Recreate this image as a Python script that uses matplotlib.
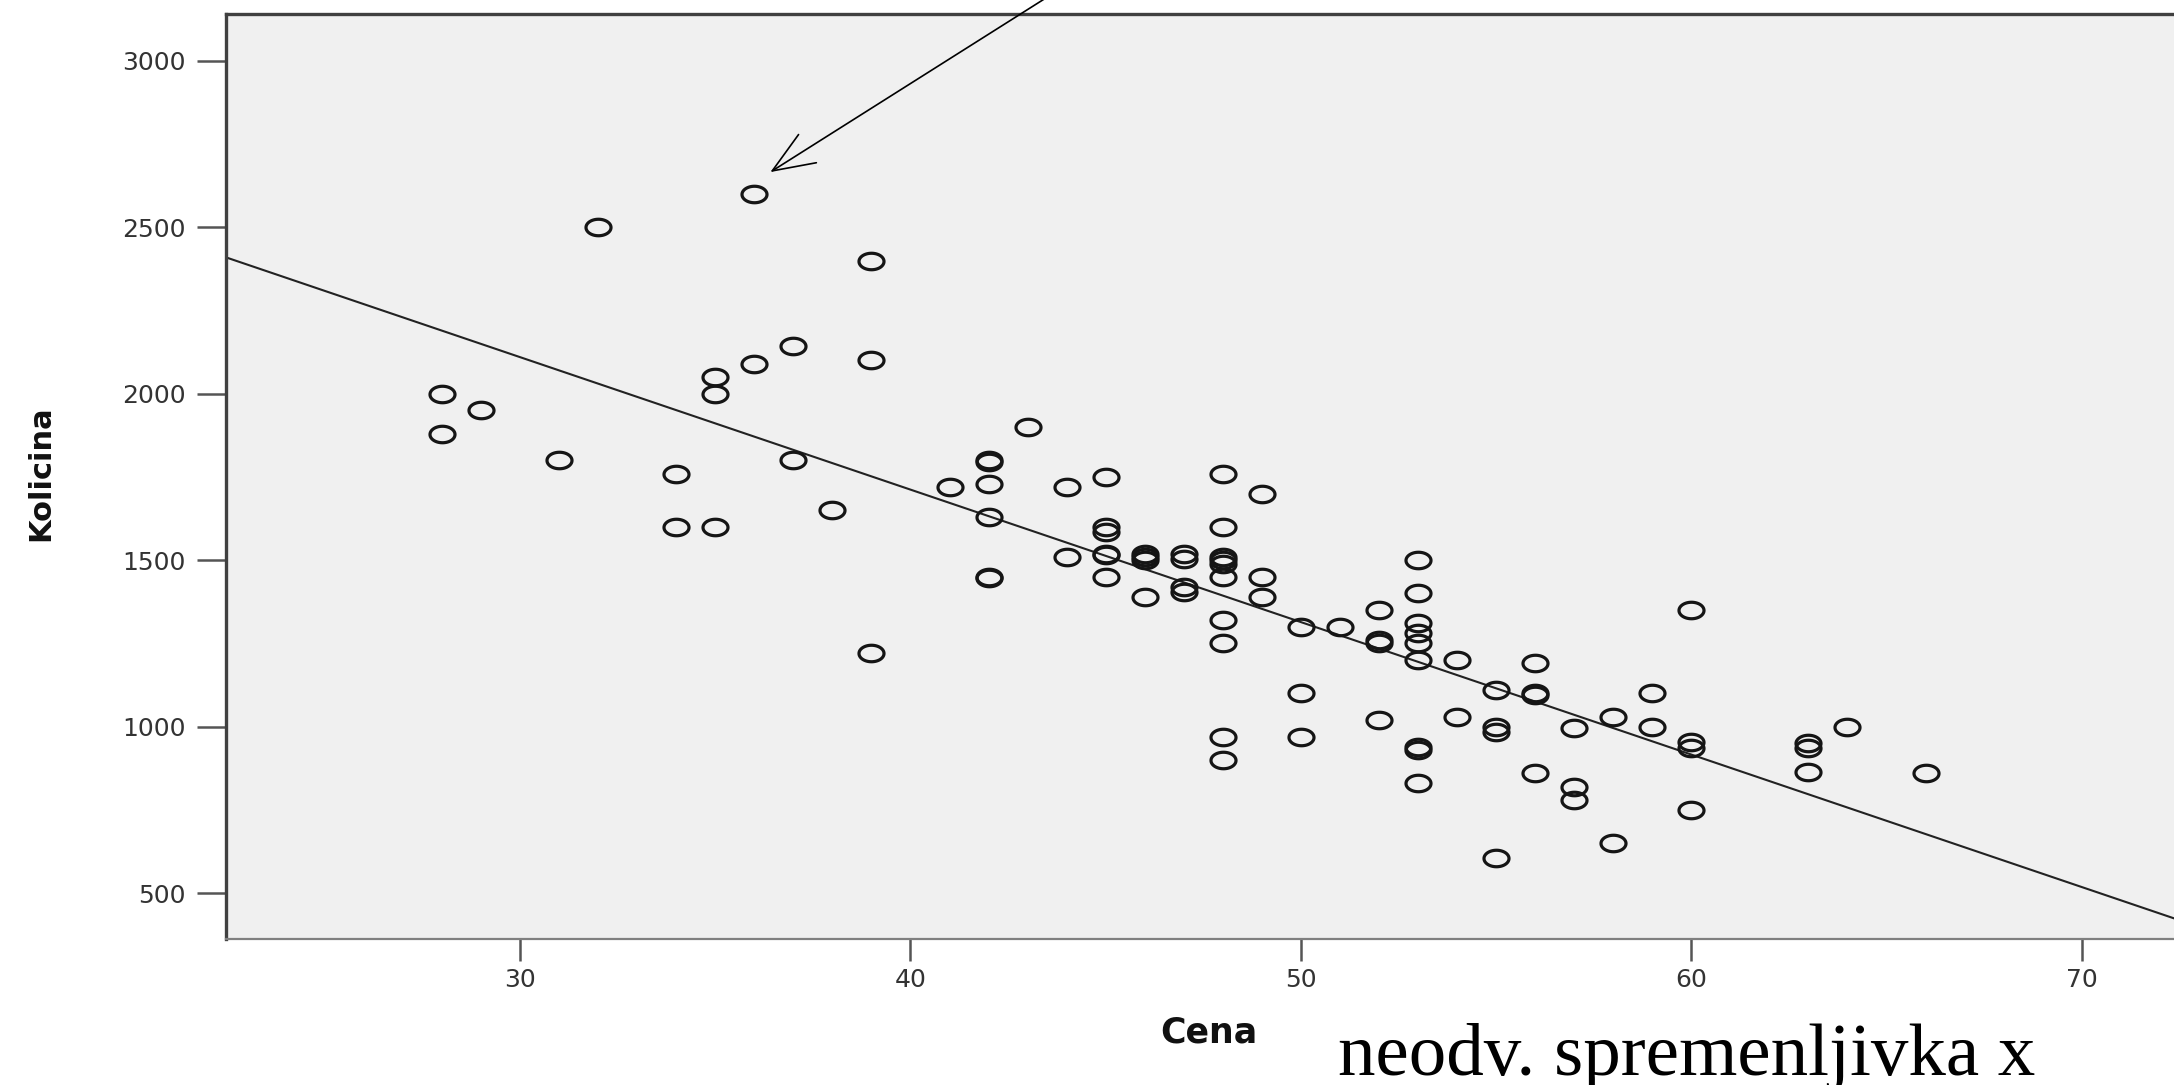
import numpy as np
import matplotlib
matplotlib.use("Agg")
import matplotlib.pyplot as plt
from matplotlib.path import Path

# data (Cena = price, Kolicina = quantity)
cena = [28, 28, 29, 31, 32, 34, 34, 35, 35, 35, 36, 36, 37, 37, 38, 39, 39, 39,
        41, 42, 42, 42, 42, 42, 42, 43, 44, 44,
        45, 45, 45, 45, 45, 45, 46, 46, 46, 46, 47, 47, 47, 47,
        48, 48, 48, 48, 48, 48, 48, 48, 48, 48, 49, 49, 49,
        50, 50, 50, 51, 52, 52, 52, 52,
        53, 53, 53, 53, 53, 53, 53, 53, 53, 54, 54,
        55, 55, 55, 55, 56, 56, 56, 56, 57, 57, 57, 58, 58, 59, 59,
        60, 60, 60, 60, 63, 63, 63, 64, 66]
kolicina = [2000, 1880, 1950, 1800, 2500, 1760, 1600, 2050, 2000, 1600, 2600, 2090, 2145, 1800, 1650, 2400, 2100, 1220,
            1720, 1800, 1795, 1730, 1630, 1450, 1445, 1900, 1720, 1510,
            1750, 1600, 1585, 1520, 1515, 1450, 1520, 1510, 1500, 1390, 1520, 1505, 1420, 1405,
            1760, 1600, 1510, 1500, 1490, 1450, 1320, 1250, 970, 900, 1700, 1450, 1390,
            1300, 1100, 970, 1300, 1350, 1260, 1250, 1020,
            1500, 1400, 1310, 1280, 1250, 1200, 940, 930, 830, 1200, 1030,
            1110, 1000, 985, 605, 1190, 1100, 1095, 860, 995, 820, 780, 1030, 650, 1100, 1000,
            1350, 955, 935, 750, 950, 935, 865, 1000, 860]

# fitted line as drawn in the picture
fit_intercept = 3304
fit_slope = -39.8

x_ticks = [30, 40, 50, 60, 70]
y_ticks = [500, 1000, 1500, 2000, 2500, 3000]

# open ellipse marker (the circles look squashed in the original)
t = np.linspace(0, 2 * np.pi, 60)
ellipse = Path(np.column_stack([np.cos(t), 0.66 * np.sin(t)]), closed=True)

fig = plt.figure(figsize=(21.74, 10.85), dpi=100)
ax = fig.add_axes([0.104, 0.1346, 0.899, 0.8525])
ax.set_facecolor("#f0f0f0")

xs = np.array([22.0, 73.0])
ax.plot(xs, fit_intercept + fit_slope * xs, color="#222222", lw=1.5, zorder=2)
ax.plot(cena, kolicina, ls="none", marker=ellipse, markersize=18,
        markerfacecolor="none", markeredgecolor="#151515", markeredgewidth=2.3, zorder=3)

ax.set_xlim(22.47, 72.53)
ax.set_ylim(362, 3141)
ax.set_xticks(x_ticks)
ax.set_yticks(y_ticks)

for side in ["left", "top"]:
    ax.spines[side].set_color("#404040")
    ax.spines[side].set_linewidth(2.4)
ax.spines["bottom"].set_color("#808080")
ax.spines["bottom"].set_linewidth(1.6)
ax.spines["right"].set_visible(False)

ax.tick_params(axis="y", length=21, width=1.8, color="#555555", pad=8,
               labelsize=18, labelcolor="#333333")
ax.tick_params(axis="x", length=16, width=1.8, color="#555555", pad=5,
               labelsize=18, labelcolor="#333333")

ax.set_xlabel("Cena", fontsize=25, fontweight="bold", color="#111111")
ax.xaxis.set_label_coords(0.5026, -0.1016)
ax.set_ylabel("Kolicina", fontsize=22, fontweight="bold", color="#111111")
ax.yaxis.set_label_coords(-0.0947, 0.504)
ax.yaxis.label.set_va("center")
ax.xaxis.label.set_va("center")

# arrow pointing at the outlier
ax.annotate("", xy=(36.41, 2666), xytext=(44.6, 3273), xycoords="data", textcoords="data",
            annotation_clip=False,
            arrowprops=dict(arrowstyle="->,head_length=1.5,head_width=0.6", mutation_scale=20,
                            color="black", lw=1.2, shrinkA=0, shrinkB=0))

fig.text(0.6155, 0.0092, "neodv. spremenljivka x", family="Liberation Serif",
         fontsize=54, ha="left", va="baseline", color="black")

fig.savefig("out.png", dpi=100)
